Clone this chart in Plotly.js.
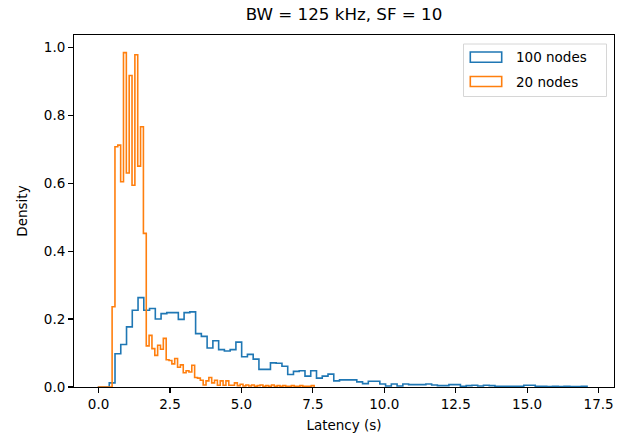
<!DOCTYPE html>
<html><head><meta charset="utf-8">
<script src="https://cdn.plot.ly/plotly-3.0.1.min.js"></script>
<style>html,body{margin:0;padding:0;background:#fff}#chart{width:627px;height:439px}</style>
</head><body><div id="chart"></div>
<script>
const seriesNames = ['100 nodes', '20 nodes'];
const seriesColors = ['#1f77b4', '#ff7f0e'];

// 100 nodes: bin start, bin width, densities
const blueStart = -0.03;
const blueWidth = 0.2015;
const blueDensity = [0, 0, 0.012, 0.098, 0.125, 0.177, 0.226, 0.263, 0.226, 0.231,
  0.200, 0.216, 0.219, 0.219, 0.199, 0.219, 0.221, 0.157, 0.149, 0.115,
  0.136, 0.110, 0.106, 0.110, 0.132, 0.089, 0.096, 0.082, 0.052, 0.052,
  0.071, 0.070, 0.061, 0.037, 0.046, 0.048, 0.032, 0.048, 0.026, 0.032,
  0.038, 0.018, 0.021, 0.021, 0.021, 0.015, 0.010, 0.017, 0.017, 0.009,
  0.003, 0.009, 0.003, 0.009, 0.007, 0.007, 0.007, 0.009, 0.006, 0.004,
  0.004, 0.007, 0.007, 0.002, 0.004, 0.005, 0.003, 0.005, 0.004, 0.002,
  0.002, 0.002, 0.002, 0.002, 0.005, 0.005, 0.002, 0.002, 0.001, 0.002,
  0.001, 0.002, 0.001, 0.001, 0.002];

// 20 nodes: bin start, bin width, densities
const orangeStart = -0.025;
const orangeWidth = 0.0996;
const orangeDensity = [0, 0, 0, 0, 0, 0.236, 0.707, 0.712, 0.604, 0.984,
  0.630, 0.917, 0.594, 0.978, 0.650, 0.766, 0.452, 0.121, 0.152, 0.113,
  0.093, 0.123, 0.111, 0.143, 0.080, 0.078, 0.068, 0.084, 0.058, 0.065,
  0.042, 0.048, 0.044, 0.064, 0.028, 0.026, 0.020, 0.006, 0.018, 0.028,
  0.012, 0.020, 0.005, 0.018, 0.005, 0.018, 0.005, 0.005, 0.012, 0.004,
  0.008, 0.003, 0.006, 0.003, 0.006, 0.002, 0.004, 0.006, 0.002, 0.004,
  0.002, 0.006, 0.002, 0.004, 0.002, 0.004, 0.002, 0.002, 0.004, 0.002,
  0.002, 0.004, 0.002, 0.002, 0.002, 0.004];

const xTicks = [0, 2.5, 5, 7.5, 10, 12.5, 15, 17.5];
const yTicks = [0, 0.2, 0.4, 0.6, 0.8, 1.0];

function stepXY(start, width, dens) {
  const x = [start], y = [0];
  dens.forEach((d, i) => { x.push(start + i * width); y.push(d); });
  x.push(start + dens.length * width); y.push(0);
  return {x, y};
}

const b = stepXY(blueStart, blueWidth, blueDensity);
const o = stepXY(orangeStart, orangeWidth, orangeDensity);

const traces = [
  {x: b.x, y: b.y, type: 'scatter', mode: 'lines', line: {shape: 'hv', color: seriesColors[0], width: 1.6}, name: seriesNames[0], hoverinfo: 'skip'},
  {x: o.x, y: o.y, type: 'scatter', mode: 'lines', line: {shape: 'hv', color: seriesColors[1], width: 1.6}, name: seriesNames[1], hoverinfo: 'skip'}
];

const W = 627, H = 439, L = 74, R = 13, T = 35, B = 52;
const pw = W - L - R, ph = H - T - B;
const px = v => (v - L) / pw;
const py = v => (H - B - v) / ph;

const font = 'DejaVu Sans, sans-serif';
const fs = 13.5;
const shapes = [
  {type: 'rect', xref: 'paper', yref: 'paper', x0: px(463.5), x1: px(606.5), y0: py(96.5), y1: py(44), line: {color: '#d6d6d6', width: 1}, fillcolor: 'rgba(255,255,255,0.8)'},
  {type: 'rect', xref: 'paper', yref: 'paper', x0: px(470.3), x1: px(501.7), y0: py(62.3), y1: py(52), line: {color: seriesColors[0], width: 1.6}, fillcolor: 'rgba(0,0,0,0)'},
  {type: 'rect', xref: 'paper', yref: 'paper', x0: px(470.3), x1: px(501.7), y0: py(86.5), y1: py(76.5), line: {color: seriesColors[1], width: 1.6}, fillcolor: 'rgba(0,0,0,0)'}
];
const annotations = [
  {xref: 'paper', yref: 'paper', x: px(514), y: py(57.3), text: seriesNames[0], showarrow: false, xanchor: 'left', yanchor: 'middle', font: {family: font, size: fs, color: '#000'}},
  {xref: 'paper', yref: 'paper', x: px(514), y: py(81.5), text: seriesNames[1], showarrow: false, xanchor: 'left', yanchor: 'middle', font: {family: font, size: fs, color: '#000'}}
];

const axisCommon = {
  showline: true, linecolor: '#000', linewidth: 1.1, mirror: true,
  ticks: 'outside', ticklen: 4.9, tickwidth: 1.1, tickcolor: '#000',
  showgrid: false, zeroline: false,
  tickfont: {family: font, size: fs, color: '#000'}
};

const layout = {
  width: W, height: H,
  margin: {l: L, r: R, t: T, b: B, pad: 0},
  paper_bgcolor: '#fff', plot_bgcolor: '#fff',
  showlegend: false,
  title: {text: 'BW = 125 kHz, SF = 10', x: 0.5, xref: 'paper', y: 1 - 14.5 / H, yref: 'container', xanchor: 'center', yanchor: 'middle', font: {family: font, size: 16.7, color: '#000'}},
  xaxis: Object.assign({}, axisCommon, {range: [-0.861, 18.04], tickvals: xTicks, tickformat: '.1f',
    title: {text: 'Latency (s)', font: {family: font, size: fs, color: '#000'}, standoff: 9}}),
  yaxis: Object.assign({}, axisCommon, {range: [0, 1.036], tickvals: yTicks, tickformat: '.1f',
    title: {text: 'Density', font: {family: font, size: fs, color: '#000'}, standoff: 13}}),
  shapes: shapes, annotations: annotations
};

Plotly.newPlot('chart', traces, layout, {staticPlot: true, displayModeBar: false});
</script></body></html>
